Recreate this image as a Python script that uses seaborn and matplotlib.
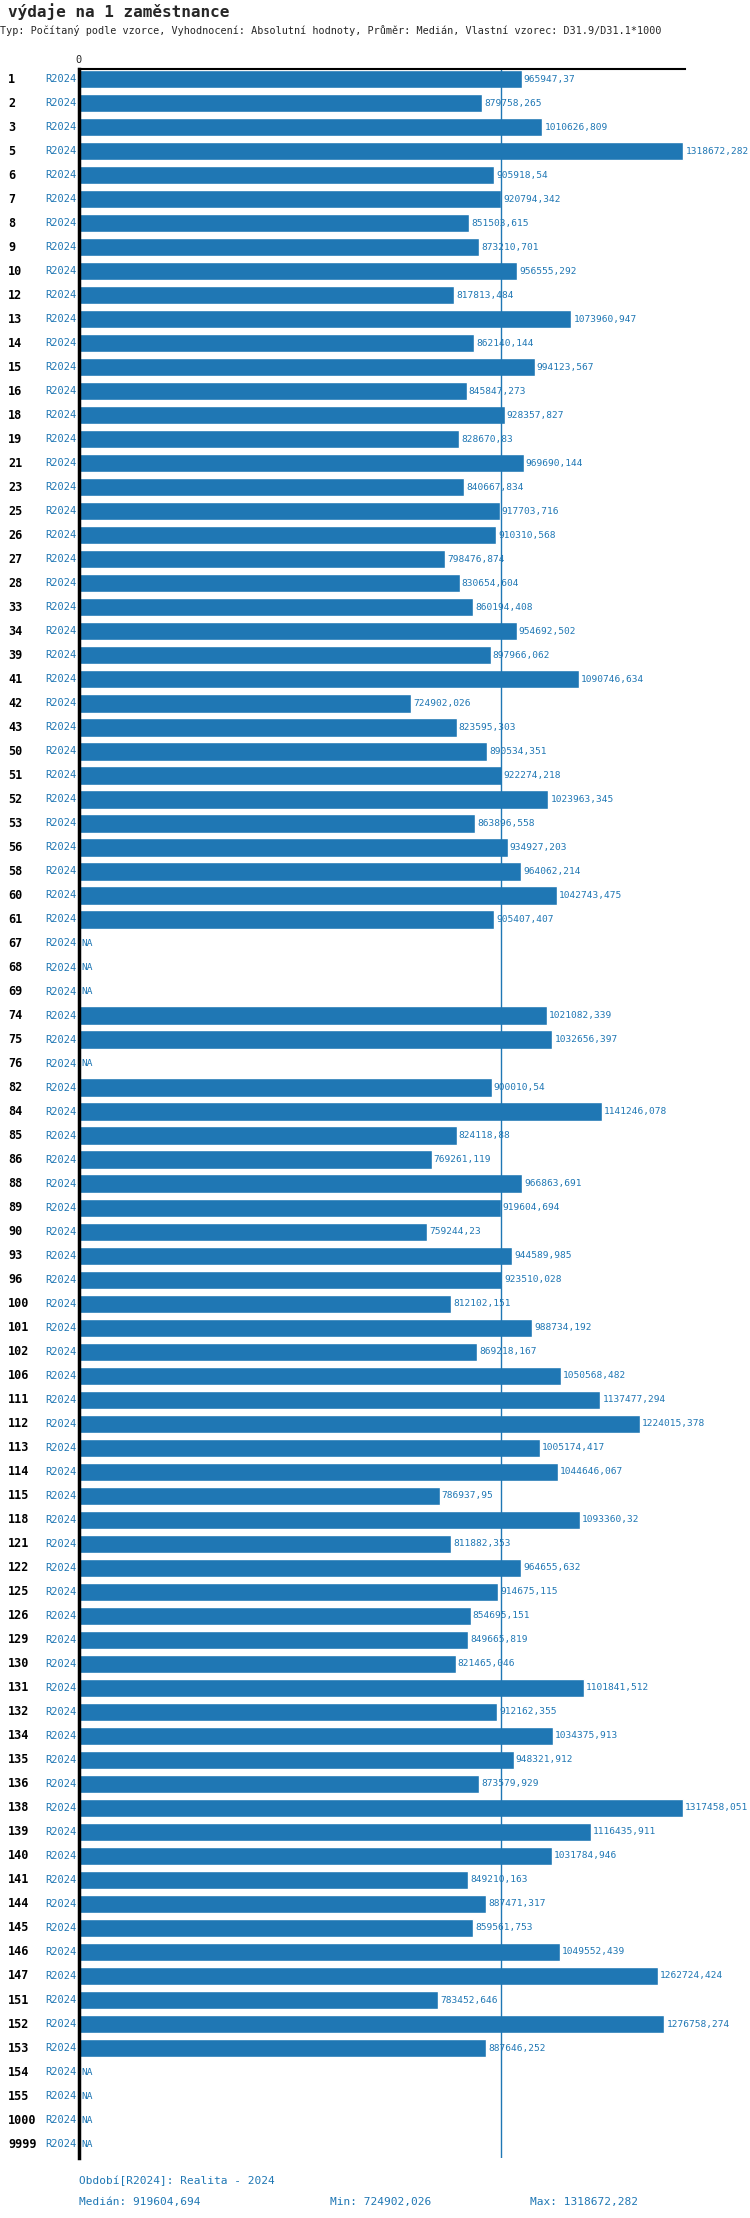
import numpy as np, pandas as pd
import matplotlib
matplotlib.use("Agg")
import matplotlib.pyplot as plt
import seaborn as sns

categories = ["1","2","3","5","6","7","8","9","10","12","13","14","15","16","18","19","21","23","25","26","27","28","33","34","39","41","42","43","50","51","52","53","56","58","60","61","67","68","69","74","75","76","82","84","85","86","88","89","90","93","96","100","101","102","106","111","112","113","114","115","118","121","122","125","126","129","130","131","132","134","135","136","138","139","140","141","144","145","146","147","151","152","153","154","155","1000","9999"]
NA = float("nan")
values = [965947.37,879758.265,1010626.809,1318672.282,905918.54,920794.342,851503.615,873210.701,956555.292,817813.484,1073960.947,862140.144,994123.567,845847.273,928357.827,828670.83,969690.144,840667.834,917703.716,910310.568,798476.874,830654.604,860194.408,954692.502,897966.062,1090746.634,724902.026,823595.303,890534.351,922274.218,1023963.345,863896.558,934927.203,964062.214,1042743.475,905407.407,NA,NA,NA,1021082.339,1032656.397,NA,900010.54,1141246.078,824118.88,769261.119,966863.691,919604.694,759244.23,944589.985,923510.028,812102.151,988734.192,869218.167,1050568.482,1137477.294,1224015.378,1005174.417,1044646.067,786937.95,1093360.32,811882.353,964655.632,914675.115,854695.151,849665.819,821465.046,1101841.512,912162.355,1034375.913,948321.912,873579.929,1317458.051,1116435.911,1031784.946,849210.163,887471.317,859561.753,1049552.439,1262724.424,783452.646,1276758.274,887646.252,NA,NA,NA,NA]
period = "R2024"
median, vmin, vmax = 919604.694, 724902.026, 1318672.282

BLUE = "#1f77b4"
FONT = "DejaVu Sans Mono"
sns.set_style("white")
plt.rcParams['font.family'] = [FONT]

W, H = 750, 2218
fig = plt.figure(figsize=(W/100, H/100), dpi=100)
ax = fig.add_axes([79/W, 1-2158/H, 606/W, (2158-69)/H])
df = pd.DataFrame({"cat": categories, "val": values})
sns.barplot(data=df, x="val", y="cat", order=categories, color=BLUE, saturation=1, width=0.76, ax=ax, orient="h")
n = len(categories)
ax.set_ylim(n-1+0.58, -0.42)
ax.set_xlim(0, 1322000)
ax.set_xlabel(""); ax.set_ylabel("")
ax.set_xticks([]); ax.set_yticks([])
for s in ["right", "bottom"]:
    ax.spines[s].set_visible(False)
ax.spines["left"].set_linewidth(2.5); ax.spines["left"].set_color("black")
ax.spines["top"].set_linewidth(1.5); ax.spines["top"].set_color("black")
ax.axvline(median, color=BLUE, lw=1)
ax.text(0, -0.6, "0", ha="center", va="bottom", fontsize=7.5, clip_on=False)

for i, (c, v) in enumerate(zip(categories, values)):
    ax.annotate(c, (8/W, i), xycoords=("figure fraction", "data"),
                ha="left", va="center", fontsize=8.5, fontweight="bold", color="black")
    ax.annotate(period, (77/W, i), xycoords=("figure fraction", "data"), ha="right", va="center", fontsize=7.5, color=BLUE)
    x = 0 if np.isnan(v) else v
    lab = "NA" if np.isnan(v) else f"{v}".replace(".", ",")
    ax.annotate(lab, (x, i), xytext=(1.5, 0), textcoords="offset points",
                ha="left", va="center", fontsize=6.8, color=BLUE, annotation_clip=False)

fig.text(8/W, 1-12/H, "výdaje na 1 zaměstnance", fontsize=11.5, fontweight="bold", va="center", ha="left")
fig.text(0/W, 1-31/H, "Typ: Počítaný podle vzorce, Vyhodnocení: Absolutní hodnoty, Průměr: Medián, Vlastní vzorec: D31.9/D31.1*1000",
         fontsize=7.3, va="center", ha="left")
fmt = lambda v: f"{v}".replace(".", ",")
fig.text(79/W, 1-2181/H, "Období[R2024]: Realita - 2024", fontsize=8, color=BLUE, va="center")
fig.text(79/W, 1-2202/H, "Medián: " + fmt(median), fontsize=8, color=BLUE, va="center")
fig.text(330/W, 1-2202/H, "Min: " + fmt(vmin), fontsize=8, color=BLUE, va="center")
fig.text(530/W, 1-2202/H, "Max: " + fmt(vmax), fontsize=8, color=BLUE, va="center")

fig.savefig("out.png", dpi=100)
